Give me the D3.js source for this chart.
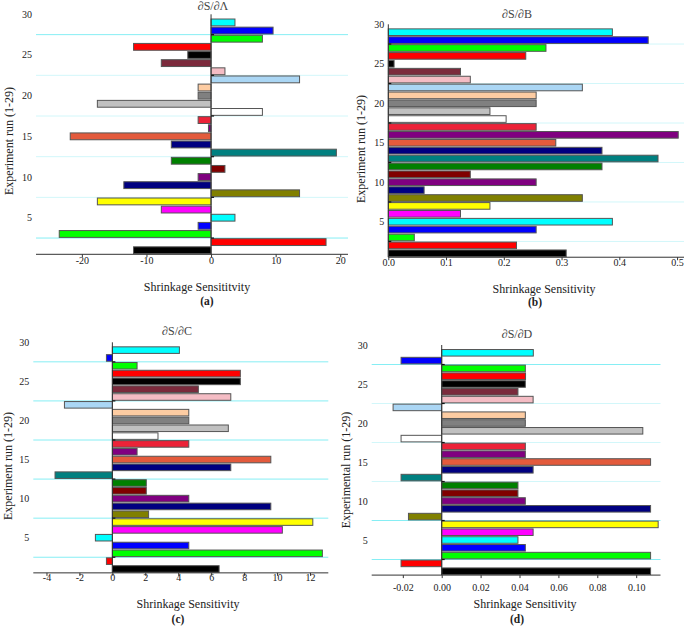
<!DOCTYPE html>
<html><head><meta charset="utf-8">
<script src="https://cdn.jsdelivr.net/npm/d3@7"></script>
<style>body{margin:0;background:#fff}svg{display:block}</style>
</head><body>
<svg id="c" width="685" height="627"></svg>
<script>
// ---------- data ----------
const runs = d3.range(1, 30); // experiment runs 1..29
const runColors = ["#000000","#ff0000","#00ff00","#0000ff","#00ffff","#ff00ff","#ffff00","#808000","#000080","#800080",
  "#800000","#008000","#008080","#000080","#e35a3c","#800080","#ec2238","#ffffff","#c0c0c0","#808080",
  "#fdcca2","#aad6f4","#f4bcc4","#7b2a3c","#000000","#ff0000","#00ff00","#0000ff","#00ffff"];
const valuesA = [-12,17.8,-23.5,-2,3.7,-7.7,-17.6,13.7,-13.5,-2,2.15,-6.15,19.4,-6.15,-21.8,-0.4,-2,7.95,-17.6,-2,-2,13.7,2.15,-7.7,-3.6,-12,7.95,9.6,3.7];
const valuesB = [0.308,0.222,0.045,0.256,0.388,0.125,0.176,0.336,0.062,0.256,0.142,0.370,0.467,0.370,0.290,0.502,0.256,0.204,0.176,0.256,0.256,0.336,0.142,0.125,0.010,0.238,0.273,0.450,0.388];
const valuesC = [6.48,-0.36,12.75,4.64,-1.03,10.32,12.17,2.2,9.62,4.64,2.06,2.06,-3.48,7.19,9.62,1.5,4.64,2.77,7.04,4.64,4.64,-2.91,7.19,5.22,7.77,7.77,1.5,-0.36,4.07];
const valuesD = [0.1074,-0.0209,0.1074,0.043,0.0392,0.047,0.1113,-0.0171,0.1074,0.043,0.0392,0.0392,-0.0209,0.047,0.1074,0.043,0.043,-0.0209,0.1034,0.043,0.043,-0.025,0.047,0.0392,0.043,0.0431,0.043,-0.0209,0.0471];
const ticksA = [-20,-10,0,10,20];
const ticksB = [0,0.1,0.2,0.3,0.4,0.5];
const ticksC = [-4,-2,0,2,4,6,8,10,12];
const ticksD = [-0.02,0,0.02,0.04,0.06,0.08,0.10];
const yTickValues = [5,10,15,20,25,30];
const gridValues = [2.5,7.5,12.5,17.5,22.5,27.5];
const titles = ["\u2202S/\u2202\u039B","\u2202S/\u2202B","\u2202S/\u2202C","\u2202S/\u2202D"];
const xLabels = ["Shrinkage Sensititvity","Shrinkage Sensitivity","Shrinkage Sensitivity","Shrinkage Sensitivity"];
const yLabels = ["Experiment run (1-29)","Experiment run (1-29)","Experiment run (1-29)","Experimental run (1-29)"];
const panelTags = ["(a)","(b)","(c)","(d)"];

// ---------- layout ----------
const FONT = "'Liberation Serif', 'Times New Roman', Tinos, 'DejaVu Serif', serif";
const BRIGHT = "#86eef4", LIGHT = "#d2f7fa";
const panels = [
  {vals: valuesA, ticks: ticksA, xd: [-27.1, 21.2], xr: [36, 348], y30: 14.3, y5: 217.7, fmt: d3.format("d"), tickDy: 9.5,
   title: [213, 10], xl: [197, 291], tag: [207, 305], yl: [9, 141], grid: [BRIGHT, LIGHT, LIGHT, LIGHT, LIGHT, BRIGHT]},
  {vals: valuesB, ticks: ticksB, xd: [0, 0.512], xr: [388.3, 684], y30: 24.3, y5: 221.7, fmt: d3.format(".1f"), tickDy: 8.5,
   title: [517, 18], xl: [544, 293], tag: [535, 306], yl: [361, 149], grid: [LIGHT, LIGHT, LIGHT, LIGHT, LIGHT, LIGHT]},
  {vals: valuesC, ticks: ticksC, xd: [-4.8, 13.11], xr: [33.3, 328.3], y30: 342.3, y5: 537.7, fmt: d3.format("d"), tickDy: 8.5,
   title: [177, 335], xl: [188, 608], tag: [178, 623], yl: [8, 466], grid: [BRIGHT, BRIGHT, BRIGHT, BRIGHT, BRIGHT, BRIGHT]},
  {vals: valuesD, ticks: ticksD, xd: [-0.036, 0.1125], xr: [371.7, 660.5], y30: 345, y5: 540, fmt: d3.format(".2f"), tickDy: 15.5,
   title: [517, 338], xl: [525, 608], tag: [517, 623], yl: [346, 470], grid: [BRIGHT, BRIGHT, LIGHT, LIGHT, LIGHT, BRIGHT]}
];

const svg = d3.select("#c");

panels.forEach((p, i) => {
  const g = svg.append("g");
  const x = d3.scaleLinear().domain(p.xd).range(p.xr);
  const unit = (p.y5 - p.y30) / 25;
  const y = d3.scaleLinear().domain([30, 0.5]).range([p.y30, p.y5 + 4.5 * unit]);
  const x0 = x(0);
  const yBottom = y(0.5);

  // grid lines
  g.selectAll("line.grid").data(gridValues).join("line")
    .attr("x1", p.xr[0]).attr("x2", p.xr[1])
    .attr("y1", d => y(d)).attr("y2", d => y(d))
    .attr("stroke", (d, k) => p.grid[k]).attr("stroke-width", 1);

  // bars
  const bh = unit * 0.84;
  g.selectAll("rect.bar").data(runs).join("rect")
    .attr("x", d => Math.min(x0, x(p.vals[d - 1])))
    .attr("width", d => Math.abs(x(p.vals[d - 1]) - x0))
    .attr("y", d => y(d) - bh / 2)
    .attr("height", bh)
    .attr("fill", d => runColors[d - 1])
    .attr("stroke", "#555").attr("stroke-width", 1);

  // zero (vertical) axis line
  g.append("line").attr("x1", x0).attr("x2", x0).attr("y1", y(30)).attr("y2", yBottom)
    .attr("stroke", "#333").attr("stroke-width", 1);
  // small ticks on zero line
  g.selectAll("line.zt").data(gridValues).join("line")
    .attr("x1", x0).attr("x2", x0 + 3).attr("y1", d => y(d)).attr("y2", d => y(d))
    .attr("stroke", "#111").attr("stroke-width", 1.2);

  // x axis
  const xa = d3.axisBottom(x).tickValues(p.ticks).tickFormat(p.fmt).tickSize(3).tickSizeOuter(0);
  const ax = g.append("g").attr("transform", `translate(0,${yBottom})`).call(xa);
  ax.attr("font-family", null);
  ax.select(".domain").attr("stroke", "#333").attr("d", `M${p.xr[0]},0H${p.xr[1]}`);
  ax.selectAll(".tick line").attr("stroke", "#333");
  ax.selectAll(".tick text").style("font-family", FONT).style("font-size", "10px")
    .attr("fill", "#222").attr("dy", null).attr("y", p.tickDy)
    .text(d => p.fmt(d).replace("\u2212", "-"));

  const T = sel => sel.style("font-family", FONT).attr("fill", "#222");

  // y tick labels at the left edge of plot
  g.selectAll("text.yt").data(yTickValues).join("text")
    .attr("x", p.xr[0] - 4).attr("y", d => y(d)).attr("dy", "0.35em")
    .attr("text-anchor", "end").style("font-size", "10px").text(d => d).call(T);

  // title
  g.append("text").attr("x", p.title[0]).attr("y", p.title[1]).attr("text-anchor", "middle")
    .style("font-size", "12px").text(titles[i]).call(T).attr("fill", "#444");
  // x label
  g.append("text").attr("x", p.xl[0]).attr("y", p.xl[1]).attr("text-anchor", "middle")
    .style("font-size", "12px").text(xLabels[i]).call(T);
  // panel tag
  g.append("text").attr("x", p.tag[0]).attr("y", p.tag[1]).attr("text-anchor", "middle")
    .style("font-size", "11.5px").style("font-weight", "bold").text(panelTags[i]).call(T);
  // y label
  g.append("text").attr("transform", `translate(${p.yl[0]},${p.yl[1]}) rotate(-90)`)
    .attr("text-anchor", "middle").attr("dy", "0.35em").style("font-size", "12px").text(yLabels[i]).call(T);
});
</script>
</body></html>
